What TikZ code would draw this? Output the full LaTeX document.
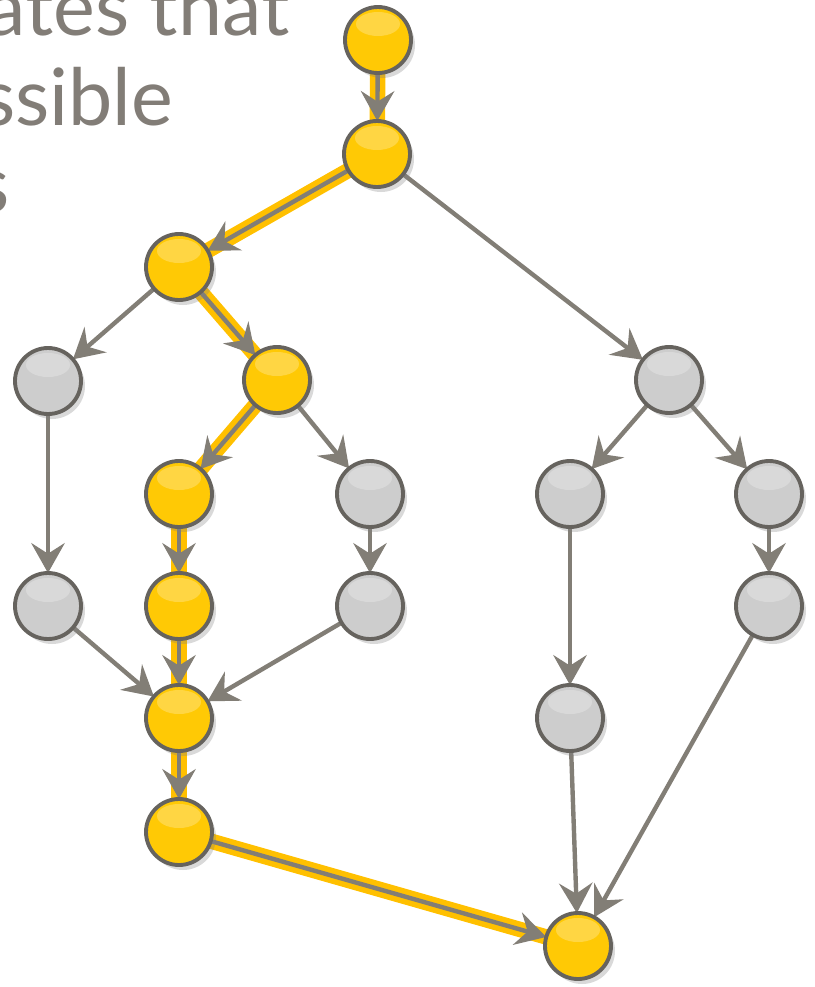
\documentclass[tikz,border=0pt]{standalone}
\usepackage{fontspec}
\setmainfont{Lato}
\usetikzlibrary{arrows.meta, backgrounds, shadows}
\definecolor{pathgold}{HTML}{FFC000}
\definecolor{ballgold}{HTML}{FFC905}
\definecolor{ballgrey}{HTML}{CDCDCD}
\definecolor{rimgrey}{HTML}{66635E}
\definecolor{edgegrey}{HTML}{827E76}
\definecolor{textgrey}{HTML}{827D77}

\tikzset{
  ball/.style={circle, minimum size=0.66cm, inner sep=0pt, outer sep=0pt,
    draw=rimgrey, line width=1.1pt,
    drop shadow={shadow xshift=0.04cm, shadow yshift=-0.05cm, opacity=0.3},
    path picture={\fill[white, opacity=0.25]
      ([yshift=-0.17cm]path picture bounding box.north) ellipse (0.22cm and 0.12cm);}},
  gold/.style={ball, fill=ballgold},
  grey/.style={ball, fill=ballgrey},
  edge/.style={draw=edgegrey, line width=1.25pt,
    -{Stealth[length=8.5pt, width=9.5pt, inset=3pt]}},
  trail/.style={draw=pathgold, line width=4.4pt}
}

\begin{document}
\begin{tikzpicture}
  \clip (0,0) rectangle (8.15,-9.87);

  % leftover lines of the slide text
  \begin{scope}[textgrey, font=\fontsize{22.5}{25}\selectfont]
    \node[anchor=base east, inner sep=0pt] (line1) at (2.90,-0.35) {ates that};
    \node[anchor=base east, inner sep=0pt] (line2) at (1.74,-1.25) {ssible};
    \node[anchor=base east, inner sep=0pt] (line3) at (0.10,-2.12) {s};
  \end{scope}

  % states
  \node[gold] (s1)  at (3.78,-0.40) {};
  \node[gold] (s2)  at (3.77,-1.54) {};
  \node[gold] (s3)  at (1.79,-2.67) {};
  \node[grey] (s4)  at (0.48,-3.81) {};
  \node[gold] (s5)  at (2.77,-3.80) {};
  \node[grey] (s6)  at (6.69,-3.80) {};
  \node[gold] (s7)  at (1.79,-4.94) {};
  \node[grey] (s8)  at (3.70,-4.94) {};
  \node[grey] (s9)  at (5.70,-4.94) {};
  \node[grey] (s10) at (7.69,-4.94) {};
  \node[grey] (s11) at (0.48,-6.06) {};
  \node[gold] (s12) at (1.79,-6.06) {};
  \node[grey] (s13) at (3.70,-6.06) {};
  \node[grey] (s14) at (7.69,-6.06) {};
  \node[gold] (s15) at (1.79,-7.18) {};
  \node[grey] (s16) at (5.70,-7.18) {};
  \node[gold] (s17) at (1.79,-8.32) {};
  \node[gold] (s18) at (5.78,-9.46) {};

  \begin{scope}[on background layer]
    % highlighted path
    \draw[trail] (s1) -- (s2);
    \draw[trail] (s2) -- (s3);
    \draw[trail] (s3) -- (s5);
    \draw[trail] (s5) -- (s7);
    \draw[trail] (s7) -- (s12);
    \draw[trail] (s12) -- (s15);
    \draw[trail] (s15) -- (s17);
    \draw[trail] (s17) -- (s18);

    % transitions
    \draw[edge] (s1) -- (s2);
    \draw[edge] (s2) -- (s3);
    \draw[edge] (s2) -- (s6);
    \draw[edge] (s3) -- (s4);
    \draw[edge] (s3) -- (s5);
    \draw[edge] (s5) -- (s7);
    \draw[edge] (s5) -- (s8);
    \draw[edge] (s6) -- (s9);
    \draw[edge] (s6) -- (s10);
    \draw[edge] (s4) -- (s11);
    \draw[edge] (s7) -- (s12);
    \draw[edge] (s8) -- (s13);
    \draw[edge] (s10) -- (s14);
    \draw[edge] (s9) -- (s16);
    \draw[edge] (s11) -- (s15);
    \draw[edge] (s12) -- (s15);
    \draw[edge] (s13) -- (s15);
    \draw[edge] (s15) -- (s17);
    \draw[edge] (s17) -- (s18);
    \draw[edge] (s16) -- (s18);
    \draw[edge] (s14) -- (s18);
  \end{scope}
\end{tikzpicture}
\end{document}
